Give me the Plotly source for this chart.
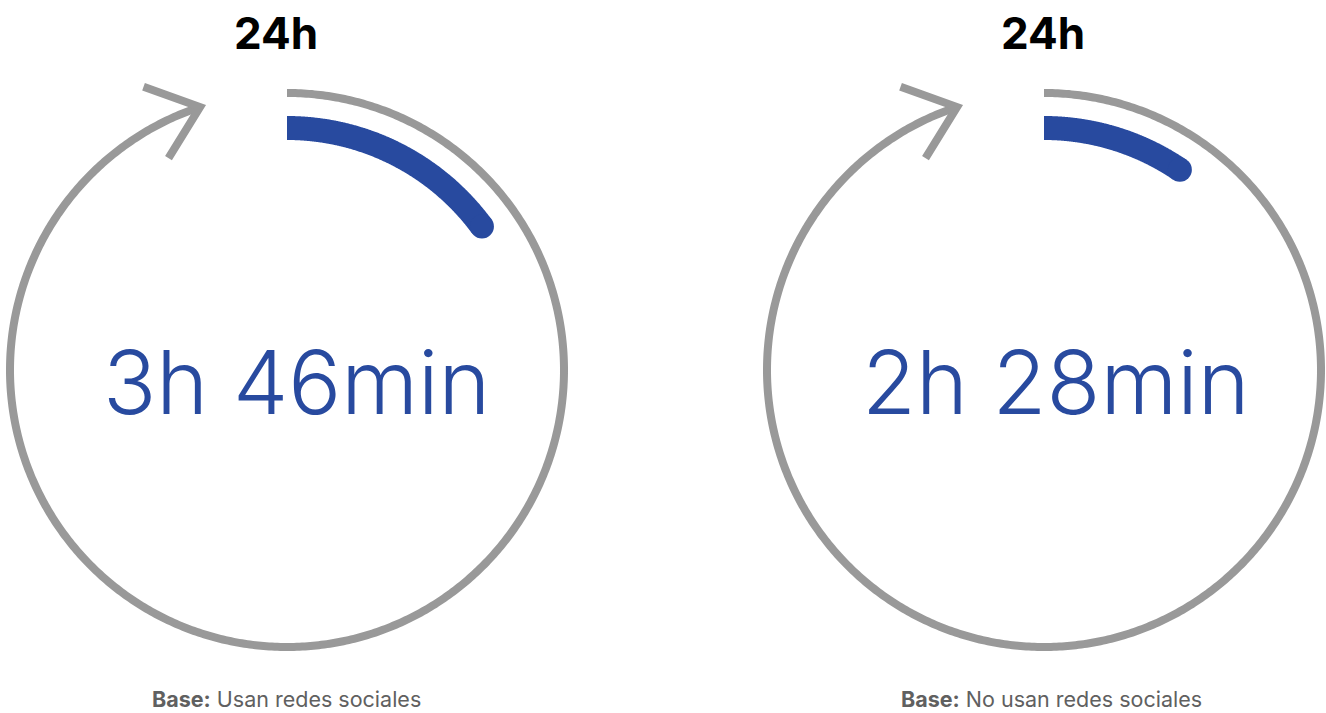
import numpy as np
import plotly.graph_objects as go

# ---- data ----
groups = ["Usan redes sociales", "No usan redes sociales"]
hours = [3, 2]
minutes = [46, 28]
total_label = "24h"
day_minutes = 1440

W, H = 1326, 713
centers_x = [287, 1044]
cy = 370
R_outer = 277
R_inner = 242
BLUE_W = 24
GRAY = "#999999"
BLUE = "#284A9F"

fig = go.Figure()

def pt(cx, r, ang_deg):
    a = np.radians(ang_deg)
    return cx + r * np.sin(a), cy - r * np.cos(a)

cap_deg = np.degrees((BLUE_W / 2) / R_inner)

for i, cx in enumerate(centers_x):
    # gray full-day arc with arrow
    end_ang = 341.7
    angs = np.linspace(0, end_ang, 600)
    x, y = pt(cx, R_outer, angs)
    fig.add_trace(go.Scatter(x=x, y=y, mode="lines",
                             line=dict(color=GRAY, width=8, simplify=False),
                             hoverinfo="skip", showlegend=False))
    tx, ty = pt(cx, R_outer, end_ang)
    a = np.radians(end_ang)
    tang = np.array([np.cos(a), np.sin(a)])
    back = -tang
    barbs = []
    for rot in (38, -40):
        rr = np.radians(rot)
        d = np.array([back[0] * np.cos(rr) - back[1] * np.sin(rr),
                      back[0] * np.sin(rr) + back[1] * np.cos(rr)])
        barbs.append((tx + 60 * d[0], ty + 60 * d[1]))
    fig.add_trace(go.Scatter(x=[barbs[0][0], tx, barbs[1][0]], y=[barbs[0][1], ty, barbs[1][1]],
                             mode="lines", line=dict(color=GRAY, width=8, simplify=False),
                             hoverinfo="skip", showlegend=False))
    # blue value arc (round cap included in its length)
    frac = (hours[i] * 60 + minutes[i]) / day_minutes
    angs = np.linspace(0, frac * 360 - cap_deg, 300)
    x, y = pt(cx, R_inner, angs)
    fig.add_trace(go.Scatter(x=x, y=y, mode="lines",
                             line=dict(color=BLUE, width=BLUE_W, simplify=False),
                             hoverinfo="skip", showlegend=False))
    fig.add_trace(go.Scatter(x=[x[-1]], y=[y[-1]], mode="markers",
                             marker=dict(color=BLUE, size=BLUE_W, line=dict(width=0)),
                             hoverinfo="skip", showlegend=False))

ann = []
label_x = [296, 1056]
top_x = [276, 1043]
base_x = [286, 1051]
for i in range(2):
    ann.append(dict(x=label_x[i], y=382, text=f"{hours[i]}h {minutes[i]}min", showarrow=False,
                    font=dict(family="Inter", size=88, color=BLUE, weight=300),
                    xanchor="center", yanchor="middle"))
    ann.append(dict(x=top_x[i], y=33, text=f"<b>{total_label}</b>", showarrow=False,
                    font=dict(family="Inter", size=44, color="#000000"),
                    xanchor="center", yanchor="middle"))
    ann.append(dict(x=base_x[i], y=699, text=f"<b>Base:</b> {groups[i]}", showarrow=False,
                    font=dict(family="Inter", size=21.5, color="#606060"),
                    xanchor="center", yanchor="middle"))

fig.update_layout(
    width=W, height=H, margin=dict(l=0, r=0, t=0, b=0),
    paper_bgcolor="white", plot_bgcolor="white",
    xaxis=dict(range=[0, W], visible=False, fixedrange=True),
    yaxis=dict(range=[H, 0], visible=False, fixedrange=True),
    annotations=ann, showlegend=False,
)
fig.write_html("out.html")
